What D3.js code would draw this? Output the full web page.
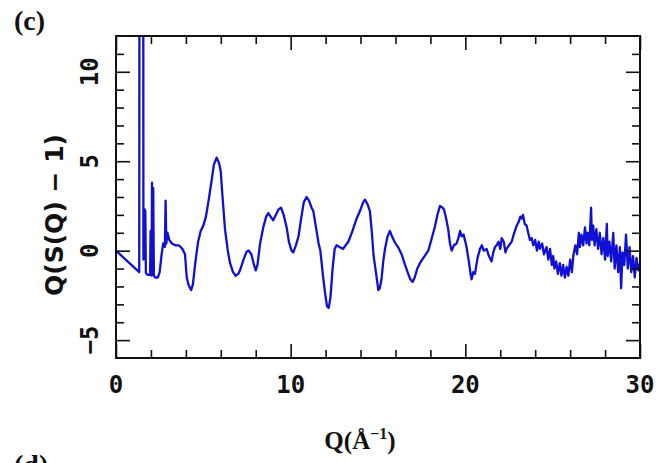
<!DOCTYPE html>
<html>
<head>
<meta charset="utf-8">
<script src="https://cdn.jsdelivr.net/npm/d3@7/dist/d3.min.js"></script>
<style>
  html, body { margin: 0; padding: 0; background: #fff; }
  svg { display: block; }
</style>
</head>
<body>
<svg id="chart" width="658" height="463"></svg>
<script>
// ---- data ----
const xDomain = [0, 30];
const yDomain = [-6, 12];
const xMajorTicks = [0, 10, 20, 30];
const xMinorTicks = [2, 4, 6, 8, 12, 14, 16, 18, 22, 24, 26, 28];
const yMajorTicks = [-5, 0, 5, 10];
const yMinorTicks = [-4, -3, -2, -1, 1, 2, 3, 4, 6, 7, 8, 9, 11];
const xTickLabels = ["0", "10", "20", "30"];
const yTickLabels = ["\u22125", "0", "5", "10"];
const panelLabel = "(c)";
const nextPanelLabel = "(d)";

// [Q, Q(S(Q)-1)]
const curve = [
[0,0],[1.33,-1.2],[1.36,40],[1.55,40],[1.57,-0.5],[1.62,-0.4],[1.64,2.3],[1.68,2.2],[1.71,-1.25],[1.8,-1.35],
[1.95,-1.35],[1.98,1.1],[2.0,-1.0],[2.04,-1.4],[2.06,3.8],[2.1,-1.3],[2.13,3.5],[2.17,-1.4],[2.25,-1.5],[2.4,-1.5],
[2.5,-1.2],[2.6,-0.3],[2.7,0.4],[2.8,0.2],[2.84,2.8],[2.88,0.4],[2.95,1.0],[3.05,0.6],[3.2,0.4],[3.4,0.3],
[3.6,0.3],[3.8,0.1],[3.95,-0.2],[4.05,-1.5],[4.15,-1.9],[4.3,-2.2],[4.4,-1.9],[4.55,-0.6],[4.7,0.5],[4.85,1.1],
[5.0,1.4],[5.15,1.9],[5.3,2.8],[5.48,3.95],[5.6,4.8],[5.76,5.2],[5.9,4.9],[6.0,4.4],[6.1,3.0],[6.24,1.2],
[6.4,0.0],[6.53,-0.7],[6.7,-1.2],[6.85,-1.4],[7.0,-1.3],[7.1,-1.1],[7.3,-0.5],[7.48,-0.05],[7.6,0.0],[7.75,-0.2],
[7.9,-0.8],[8.0,-1.1],[8.1,-0.8],[8.25,0.4],[8.43,1.3],[8.6,1.9],[8.72,2.1],[8.85,1.9],[9.0,1.7],[9.15,2.0],
[9.3,2.3],[9.45,2.4],[9.6,2.0],[9.77,1.3],[9.9,0.5],[10.05,0.0],[10.15,-0.1],[10.3,0.3],[10.45,0.8],[10.6,1.8],
[10.75,2.7],[10.91,3.0],[11.05,2.8],[11.2,2.4],[11.3,2.2],[11.45,1.3],[11.6,0.4],[11.7,0.0],[11.85,-1.4],[11.96,-2.3],
[12.08,-3.1],[12.18,-3.2],[12.28,-2.6],[12.4,-1.0],[12.52,0.1],[12.63,0.3],[12.8,0.2],[13.0,0.1],[13.15,0.3],[13.3,0.5],
[13.5,1.0],[13.78,1.8],[14.0,2.3],[14.15,2.7],[14.25,2.85],[14.4,2.6],[14.54,2.2],[14.65,1.0],[14.75,-0.3],[14.88,-1.2],
[15.02,-2.2],[15.1,-2.1],[15.2,-1.6],[15.3,-0.6],[15.4,0.1],[15.55,0.8],[15.68,1.1],[15.8,0.8],[15.97,0.45],[16.15,0.2],
[16.35,-0.2],[16.55,-0.8],[16.73,-1.3],[16.85,-1.6],[16.98,-1.75],[17.1,-1.5],[17.25,-1.0],[17.4,-0.7],[17.6,-0.4],[17.88,0.0],
[18.05,0.6],[18.26,1.35],[18.4,2.0],[18.55,2.5],[18.7,2.4],[18.78,2.3],[18.9,1.8],[19.02,1.2],[19.12,0.4],[19.22,0.0],
[19.35,0.3],[19.5,0.4],[19.6,0.7],[19.7,1.1],[19.79,0.8],[19.9,0.9],[20.07,0.2],[20.2,-0.6],[20.3,-1.3],[20.36,-1.6],
[20.45,-1.2],[20.55,-1.3],[20.7,-0.4],[20.84,0.1],[20.95,0.3],[21.05,0.0],[21.22,0.1],[21.35,-0.3],[21.5,-0.6],[21.6,-0.1],
[21.7,0.2],[21.79,0.3],[21.9,0.5],[22.0,0.1],[22.08,0.7],[22.2,0.5],[22.3,-0.1],[22.36,0.1],[22.5,0.3],[22.65,0.5],
[22.8,1.0],[22.94,1.4],[23.05,1.6],[23.15,1.9],[23.22,1.8],[23.3,2.0],[23.4,1.5],[23.51,1.4],[23.6,1.0],[23.7,0.6],
[23.8,0.7],[23.89,0.3],[24.0,0.6],[24.1,0.0],[24.2,0.5],[24.27,0.1],[24.4,0.4],[24.5,-0.2],[24.65,0.2],[24.75,-0.5],
[24.85,0.1],[24.95,-0.8],[25.03,-0.3],[25.1,-1.0],[25.2,-0.6],[25.3,-1.3],[25.41,-0.7],[25.5,-1.4],[25.6,-0.8],[25.7,-1.5],
[25.8,-0.9],[25.9,-1.4],[26.0,-0.5],[26.1,-1.2],[26.18,-0.3],[26.3,0.3],[26.4,-0.2],[26.5,1.0],[26.56,0.2],[26.65,0.9],
[26.75,0.3],[26.85,1.3],[26.94,0.4],[27.0,1.0],[27.1,0.3],[27.2,2.4],[27.25,0.6],[27.32,1.4],[27.4,0.3],[27.5,1.2],
[27.6,0.1],[27.7,1.0],[27.8,-0.2],[27.9,0.7],[28.0,-0.5],[28.1,1.5],[28.15,-0.3],[28.25,0.5],[28.35,-0.6],[28.47,1.0],
[28.55,-1.0],[28.65,0.3],[28.75,-1.2],[28.85,0.2],[28.92,-2.1],[29.0,-0.1],[29.1,-0.8],[29.2,0.9],[29.3,-1.0],[29.4,0.2],
[29.5,-1.2],[29.6,-0.3],[29.7,-1.5],[29.8,-0.4],[29.9,-1.1],[30.0,-0.7]
];

// ---- layout ----
const margin = { left: 116, top: 36, right: 18, bottom: 105 };
const W = 658, H = 463;
const iw = W - margin.left - margin.right;   // 524
const ih = H - margin.top - margin.bottom;   // 322

const svg = d3.select("#chart");
const g = svg.append("g").attr("transform", `translate(${margin.left},${margin.top})`);

const x = d3.scaleLinear().domain(xDomain).range([0, iw]);
const y = d3.scaleLinear().domain(yDomain).range([ih, 0]);

svg.append("defs").append("clipPath").attr("id", "clip")
  .append("rect").attr("x", 0).attr("y", 0).attr("width", iw).attr("height", ih);

// curve
const line = d3.line().x(d => x(d[0])).y(d => y(d[1]));
g.append("path")
  .datum(curve)
  .attr("clip-path", "url(#clip)")
  .attr("fill", "none")
  .attr("stroke", "#1010d4")
  .attr("stroke-width", 2.3)
  .attr("stroke-linejoin", "round")
  .attr("d", line);

// frame
g.append("rect").attr("x", 0).attr("y", 0).attr("width", iw).attr("height", ih)
  .attr("fill", "none").attr("stroke", "#111").attr("stroke-width", 2);

// ticks (inward, all sides) using d3 axes
const majorLen = 14, minorLen = 8;
function styleAxis(sel) {
  sel.select(".domain").remove();
  sel.selectAll(".tick line").attr("stroke", "#111").attr("stroke-width", 1.6);
  sel.selectAll("text").remove();
}
g.append("g").attr("transform", `translate(0,${ih})`)
  .call(d3.axisBottom(x).tickValues(xMajorTicks).tickSize(-majorLen)).call(styleAxis);
g.append("g").attr("transform", `translate(0,${ih})`)
  .call(d3.axisBottom(x).tickValues(xMinorTicks).tickSize(-minorLen)).call(styleAxis);
g.append("g")
  .call(d3.axisTop(x).tickValues(xMajorTicks).tickSize(-majorLen)).call(styleAxis);
g.append("g")
  .call(d3.axisTop(x).tickValues(xMinorTicks).tickSize(-minorLen)).call(styleAxis);
g.append("g")
  .call(d3.axisLeft(y).tickValues(yMajorTicks).tickSize(-majorLen)).call(styleAxis);
g.append("g")
  .call(d3.axisLeft(y).tickValues(yMinorTicks).tickSize(-minorLen)).call(styleAxis);
g.append("g").attr("transform", `translate(${iw},0)`)
  .call(d3.axisRight(y).tickValues(yMajorTicks).tickSize(-majorLen)).call(styleAxis);
g.append("g").attr("transform", `translate(${iw},0)`)
  .call(d3.axisRight(y).tickValues(yMinorTicks).tickSize(-minorLen)).call(styleAxis);

// tick labels
const tickFont = "'DejaVu Sans Mono', monospace";
g.selectAll(".xlab").data(xMajorTicks).enter().append("text")
  .attr("x", d => x(d)).attr("y", ih + 35)
  .attr("text-anchor", "middle")
  .attr("font-family", tickFont).attr("font-weight", "bold").attr("font-size", 24)
  .attr("fill", "#111")
  .text((d, i) => xTickLabels[i]);

g.selectAll(".ylab").data(yMajorTicks).enter().append("text")
  .attr("transform", d => `translate(-18,${y(d)}) rotate(-90)`)
  .attr("text-anchor", "middle")
  .attr("font-family", tickFont).attr("font-weight", "bold").attr("font-size", 24)
  .attr("fill", "#111")
  .text((d, i) => yTickLabels[i]);

// axis titles
svg.append("text")
  .attr("x", 360).attr("y", 449)
  .attr("text-anchor", "middle")
  .attr("font-family", "'Liberation Serif', serif").attr("font-weight", "bold").attr("font-size", 25)
  .attr("fill", "#111")
  .html("Q(Å<tspan dy='-10' font-size='16'>\u22121</tspan><tspan dy='10'>)</tspan>");

svg.append("text")
  .attr("transform", `translate(63,${margin.top + ih / 2 + 18}) rotate(-90)`)
  .attr("text-anchor", "middle")
  .attr("font-family", "'DejaVu Sans', sans-serif").attr("font-weight", "bold").attr("font-size", 25)
  .attr("fill", "#111")
  .text("Q(S(Q) \u2212 1)");

// panel labels
svg.append("text").attr("x", 14).attr("y", 30)
  .attr("font-family", "'Liberation Serif', serif").attr("font-weight", "bold").attr("font-size", 28)
  .attr("fill", "#111").text(panelLabel);
svg.append("text").attr("x", 14).attr("y", 474)
  .attr("font-family", "'Liberation Serif', serif").attr("font-weight", "bold").attr("font-size", 28)
  .attr("fill", "#111").text(nextPanelLabel);
</script>
</body>
</html>
